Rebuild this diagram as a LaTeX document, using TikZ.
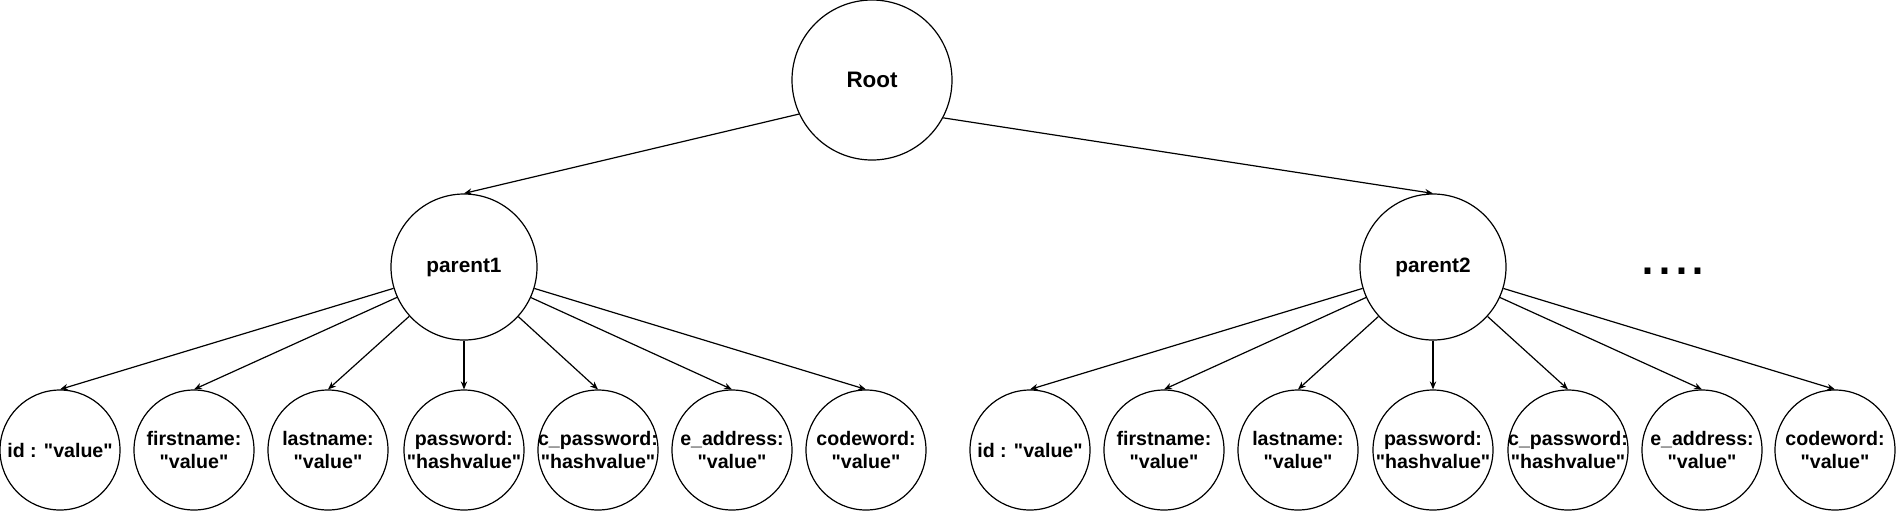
\documentclass[tikz,border=0pt]{standalone}
\usepackage{fontspec}
\setmainfont{Liberation Sans}[Ligatures=TeXOff]
\usetikzlibrary{arrows.meta}

\begin{document}
\begin{tikzpicture}[x=0.5pt, y=-0.5pt, >={Stealth[length=4pt, width=3.2pt]}, line width=0.6pt,
        rootnode/.style={circle, minimum size=80pt, draw=black, font=\bfseries\fontsize{11.2}{13}\selectfont},
        parentnode/.style={circle, minimum size=73pt, draw=black, font=\bfseries\fontsize{10.4}{12}\selectfont},
        leafnode/.style={circle, minimum size=60pt, inner sep=-8pt, draw=black, align=center, font=\bfseries\fontsize{9.8}{11.6}\selectfont}]
        \useasboundingbox (0,0) rectangle (1897,511);
        \node[rootnode] (1) at (872,80) {Root};
        \node[parentnode] (2) at (464,267) {parent1};
        \node[parentnode] (3) at (1433,267) {parent2};
        \node[font=\fontsize{30.5}{36}\selectfont, anchor=base] (18) at (1673,274) {....};
        % leaves of parent1
        \node[leafnode] (4) at (60,450) {id : "value"};
        \node[leafnode] (5) at (194,450) {firstname:\\"value"};
        \node[leafnode] (6) at (328,450) {lastname:\\"value"};
        \node[leafnode] (7) at (464,450) {password:\\"hashvalue"};
        \node[leafnode] (8) at (598,450) {c\_password:\\"hashvalue"};
        \node[leafnode] (9) at (732,450) {e\_address:\\"value"};
        \node[leafnode] (10) at (866,450) {codeword:\\"value"};
        % leaves of parent2
        \node[leafnode] (11) at (1030,450) {id : "value"};
        \node[leafnode] (12) at (1164,450) {firstname:\\"value"};
        \node[leafnode] (13) at (1298,450) {lastname:\\"value"};
        \node[leafnode] (14) at (1433,450) {password:\\"hashvalue"};
        \node[leafnode] (15) at (1568,450) {c\_password:\\"hashvalue"};
        \node[leafnode] (16) at (1702,450) {e\_address:\\"value"};
        \node[leafnode] (17) at (1835,450) {codeword:\\"value"};
        \draw[->] (1.205) -- (2.north);
        \draw[->] (1.332) -- (3.north);
        \foreach \i in {4,...,10} \draw[->] (2) -- (\i.north);
        \foreach \i in {11,...,17} \draw[->] (3) -- (\i.north);
    \end{tikzpicture}
\end{document}
